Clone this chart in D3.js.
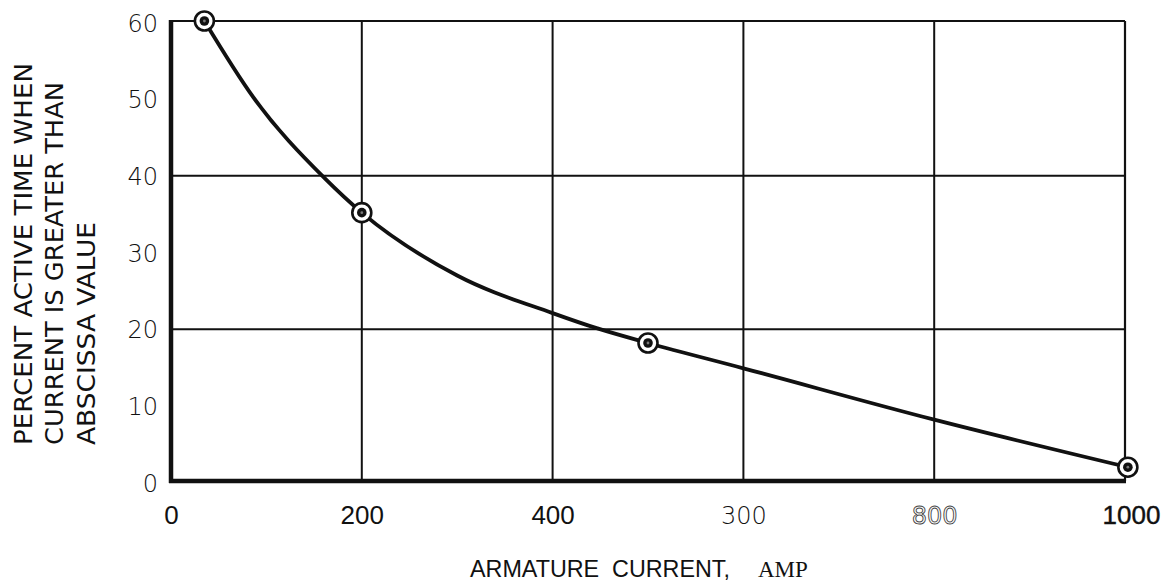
<!DOCTYPE html>
<html>
<head>
<meta charset="utf-8">
<script src="https://cdn.jsdelivr.net/npm/d3@7"></script>
<style>
  html, body { margin: 0; padding: 0; background: #fff; }
  svg { display: block; }
</style>
</head>
<body>
<svg id="chart" width="1171" height="586"></svg>
<script>
// ---- data ----
const xTickValues = [0, 200, 400, 600, 800, 1000];
const xTickLabels = ["0", "200", "400", "300", "800", "1000"]; // as printed
const yTickValues = [0, 10, 20, 30, 40, 50, 60];
const yTickLabels = ["0", "10", "20", "30", "40", "50", "60"];
const xGrid = [200, 400, 600, 800];
const yGrid = [20, 40];

// marked points
const pointAmp = [35, 200, 500, 1003];
const pointPct = [60, 35, 18, 1.8];

// smooth curve
const curveAmp = [35, 86, 161, 200, 300, 400, 447, 500, 600, 800, 1003];
const curvePct = [60, 50.1, 39.5, 35, 26.8, 21.9, 19.9, 18, 14.7, 8.0, 1.8];

const yTitleLines = ["PERCENT ACTIVE TIME WHEN", "CURRENT IS GREATER THAN", "ABSCISSA VALUE"];
const xTitleSans = "ARMATURE  CURRENT,";
const xTitleSerif = "AMP";

// ---- drawing ----
const svg = d3.select("#chart");
const x = d3.scaleLinear().domain([0, 1000]).range([171, 1125]);
const y = d3.scaleLinear().domain([0, 60]).range([481, 21]);

svg.append("rect").attr("width", 1171).attr("height", 586).attr("fill", "#fff");

const ink = "#111";

// grid lines
svg.append("g").selectAll("line").data(xGrid).join("line")
  .attr("x1", d => x(d)).attr("x2", d => x(d))
  .attr("y1", y(60)).attr("y2", y(0))
  .attr("stroke", ink).attr("stroke-width", 2);
svg.append("g").selectAll("line").data(yGrid).join("line")
  .attr("x1", x(0)).attr("x2", x(1000))
  .attr("y1", d => y(d) + 1.5).attr("y2", d => y(d) + 1.5)
  .attr("stroke", ink).attr("stroke-width", 2);

// frame: top & right thin, left & bottom heavy
svg.append("line").attr("x1", x(0)).attr("x2", x(1000)).attr("y1", y(60)).attr("y2", y(60))
  .attr("stroke", ink).attr("stroke-width", 2.2);
svg.append("line").attr("x1", x(1000)).attr("x2", x(1000)).attr("y1", y(60)).attr("y2", y(0))
  .attr("stroke", ink).attr("stroke-width", 2.2);
svg.append("line").attr("x1", x(0)).attr("x2", x(0)).attr("y1", y(60) - 1).attr("y2", y(0) + 2)
  .attr("stroke", ink).attr("stroke-width", 4.5);
svg.append("line").attr("x1", x(0) - 2).attr("x2", x(1000) + 1).attr("y1", y(0)).attr("y2", y(0))
  .attr("stroke", ink).attr("stroke-width", 4.5);

// axes (ticks hidden, labels only)
const xAxis = d3.axisBottom(x).tickValues(xTickValues)
  .tickFormat((d, i) => xTickLabels[i]).tickSize(0).tickPadding(0);
const gx = svg.append("g").attr("transform", `translate(0,${y(0)})`).call(xAxis);
gx.select(".domain").remove();
gx.selectAll("text")
  .attr("y", 43).attr("dy", 0)
  .attr("font-family", "'Liberation Sans', Arial, sans-serif")
  .attr("font-size", 26)
  .attr("fill", ink);
gx.selectAll("text").filter((d, i) => i === 3)
  .attr("font-family", "'DejaVu Sans', sans-serif").attr("font-weight", 200).attr("font-size", 24);
gx.selectAll("text").filter((d, i) => i === 4)
  .attr("fill", "#fff").attr("stroke", "#444").attr("stroke-width", 0.9)
  .attr("font-family", "'DejaVu Sans', sans-serif").attr("font-size", 24);
gx.selectAll("text").filter((d, i) => i === 5)
  .attr("stroke", ink).attr("stroke-width", 0.4).attr("dx", 6);

const yAxis = d3.axisLeft(y).tickValues(yTickValues)
  .tickFormat((d, i) => yTickLabels[i]).tickSize(0).tickPadding(0);
const gy = svg.append("g").attr("transform", `translate(158,0)`).call(yAxis);
gy.select(".domain").remove();
gy.selectAll("text")
  .attr("x", 0).attr("dy", "0.42em")
  .attr("font-family", "'DejaVu Sans', sans-serif")
  .attr("font-weight", 200)
  .attr("font-size", 24)
  .attr("fill", ink);

// curve
const line = d3.line().curve(d3.curveMonotoneX)
  .x(d => x(d[0])).y(d => y(d[1]));
svg.append("path")
  .datum(curveAmp.map((a, i) => [a, curvePct[i]]))
  .attr("d", line)
  .attr("fill", "none").attr("stroke", ink).attr("stroke-width", 3.8)
  .attr("stroke-linecap", "round");

// markers
const pts = pointAmp.map((a, i) => [a, pointPct[i]]);
const mk = svg.append("g").selectAll("g").data(pts).join("g")
  .attr("transform", d => `translate(${x(d[0])},${y(d[1])})`);
mk.append("circle").attr("r", 9.5).attr("fill", "#fff").attr("stroke", ink).attr("stroke-width", 2.6);
mk.append("circle").attr("r", 4.8).attr("fill", ink);
mk.append("circle").attr("r", 1.4).attr("fill", "#777");

// y title (three rotated lines)
const yt = svg.append("g");
const yLineX = [32, 63, 95];
const yLineLen = [382, 363, 223];
yTitleLines.forEach((t, i) => {
  yt.append("text")
    .attr("transform", `translate(${yLineX[i]},445) rotate(-90)`)
    .attr("text-anchor", "start")
    .attr("font-family", "'DejaVu Sans Condensed', 'DejaVu Sans', sans-serif")
    .attr("font-weight", 300)
    .attr("font-size", 25)
    .attr("fill", ink)
    .attr("textLength", yLineLen[i])
    .attr("lengthAdjust", "spacingAndGlyphs")
    .text(t);
});

// x title
const xt = svg.append("text").attr("y", 577).attr("fill", ink);
xt.append("tspan").attr("x", 470)
  .attr("font-family", "'Liberation Sans', Arial, sans-serif").attr("font-size", 24)
  .attr("textLength", 260).attr("lengthAdjust", "spacingAndGlyphs")
  .style("white-space", "pre")
  .text(xTitleSans);
xt.append("tspan").attr("x", 758)
  .attr("font-family", "'Liberation Serif', 'Times New Roman', serif").attr("font-size", 23)
  .text(xTitleSerif);
</script>
</body>
</html>
